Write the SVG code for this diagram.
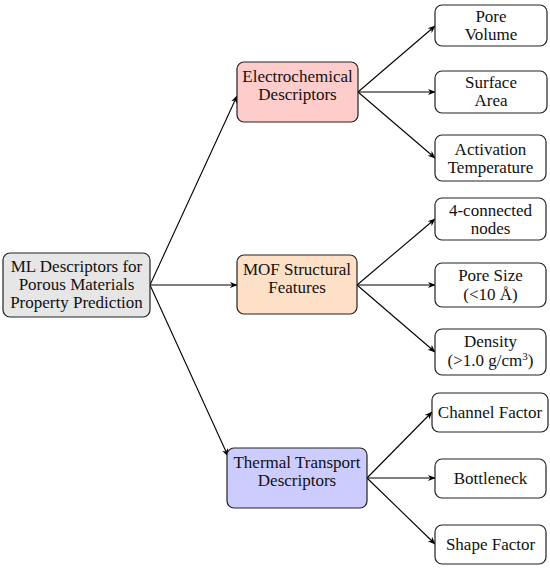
<svg xmlns="http://www.w3.org/2000/svg" width="550" height="568" viewBox="0 0 550 568">
<defs>
<style>
.n{stroke:#222;stroke-width:1.2}
.t{font-family:'Liberation Serif','Times New Roman',serif;font-size:17px;fill:#111;text-anchor:middle}
.c line{stroke:#000;stroke-width:1.1;marker-end:url(#ah)}
</style>
<marker id="ah" viewBox="0 0 10 10" refX="9" refY="5" markerWidth="8" markerHeight="8" markerUnits="userSpaceOnUse" orient="auto">
<path d="M0,1 L10,5 L0,9 L3,5 Z" fill="#000"/>
</marker>
</defs>
<rect width="550" height="568" fill="#fff"/>
<g class="c">
<line x1="150" y1="285" x2="237" y2="96"/>
<line x1="150" y1="285" x2="237" y2="285"/>
<line x1="150" y1="285" x2="228" y2="456"/>
<line x1="358" y1="92" x2="435" y2="26"/>
<line x1="358" y1="92" x2="435" y2="92"/>
<line x1="358" y1="92" x2="435" y2="158"/>
<line x1="357" y1="285" x2="435" y2="219"/>
<line x1="357" y1="285" x2="435" y2="285"/>
<line x1="357" y1="285" x2="435" y2="352"/>
<line x1="367" y1="478" x2="432" y2="412"/>
<line x1="367" y1="478" x2="435" y2="478"/>
<line x1="367" y1="478" x2="435" y2="544"/>
</g>
<g id="root"><rect class="n" x="3" y="253" width="147" height="64" rx="7" fill="#e6e6e6"/>
<text class="t" x="76.5" y="272">ML Descriptors for</text>
<text class="t" x="76.5" y="290">Porous Materials</text>
<text class="t" x="76.5" y="308">Property Prediction</text></g>
<g id="electro"><rect class="n" x="237" y="62" width="121" height="60" rx="7" fill="#ffcccc"/>
<text class="t" x="297.5" y="82">Electrochemical</text>
<text class="t" x="297.5" y="100">Descriptors</text></g>
<g id="mof"><rect class="n" x="237" y="255" width="120" height="59" rx="7" fill="#fee0c6"/>
<text class="t" x="297" y="275">MOF Structural</text>
<text class="t" x="297" y="293">Features</text></g>
<g id="thermal"><rect class="n" x="227" y="448" width="140" height="60" rx="7" fill="#ccccff"/>
<text class="t" x="297" y="468">Thermal Transport</text>
<text class="t" x="297" y="486">Descriptors</text></g>
<g id="porevol"><rect class="n" x="435" y="5" width="112" height="41" rx="7" fill="#fff"/>
<text class="t" x="491" y="22">Pore</text>
<text class="t" x="491" y="40">Volume</text></g>
<g id="surface"><rect class="n" x="435" y="71" width="112" height="42" rx="7" fill="#fff"/>
<text class="t" x="491" y="88">Surface</text>
<text class="t" x="491" y="106">Area</text></g>
<g id="activation"><rect class="n" x="435" y="135" width="111" height="46" rx="7" fill="#fff"/>
<text class="t" x="490.5" y="155">Activation</text>
<text class="t" x="490.5" y="173">Temperature</text></g>
<g id="fourconn"><rect class="n" x="435" y="198" width="111" height="42" rx="7" fill="#fff"/>
<text class="t" x="490.5" y="216">4-connected</text>
<text class="t" x="490.5" y="234">nodes</text></g>
<g id="poresize"><rect class="n" x="435" y="263" width="111" height="44" rx="7" fill="#fff"/>
<text class="t" x="490.5" y="281">Pore Size</text>
<text class="t" x="490.5" y="300">(&lt;10 Å)</text></g>
<g id="density"><rect class="n" x="435" y="329" width="111" height="46" rx="7" fill="#fff"/>
<text class="t" x="490.5" y="347">Density</text>
<text class="t" x="490.5" y="366">(&gt;1.0 g/cm<tspan font-size="11" dy="-6">3</tspan><tspan dy="6">)</tspan></text></g>
<g id="channel"><rect class="n" x="432" y="393" width="116" height="39" rx="7" fill="#fff"/>
<text class="t" x="490" y="418">Channel Factor</text></g>
<g id="bottleneck"><rect class="n" x="435" y="459" width="111" height="39" rx="7" fill="#fff"/>
<text class="t" x="490.5" y="484">Bottleneck</text></g>
<g id="shape"><rect class="n" x="435" y="525" width="111" height="39" rx="7" fill="#fff"/>
<text class="t" x="490.5" y="550">Shape Factor</text></g>
</svg>
